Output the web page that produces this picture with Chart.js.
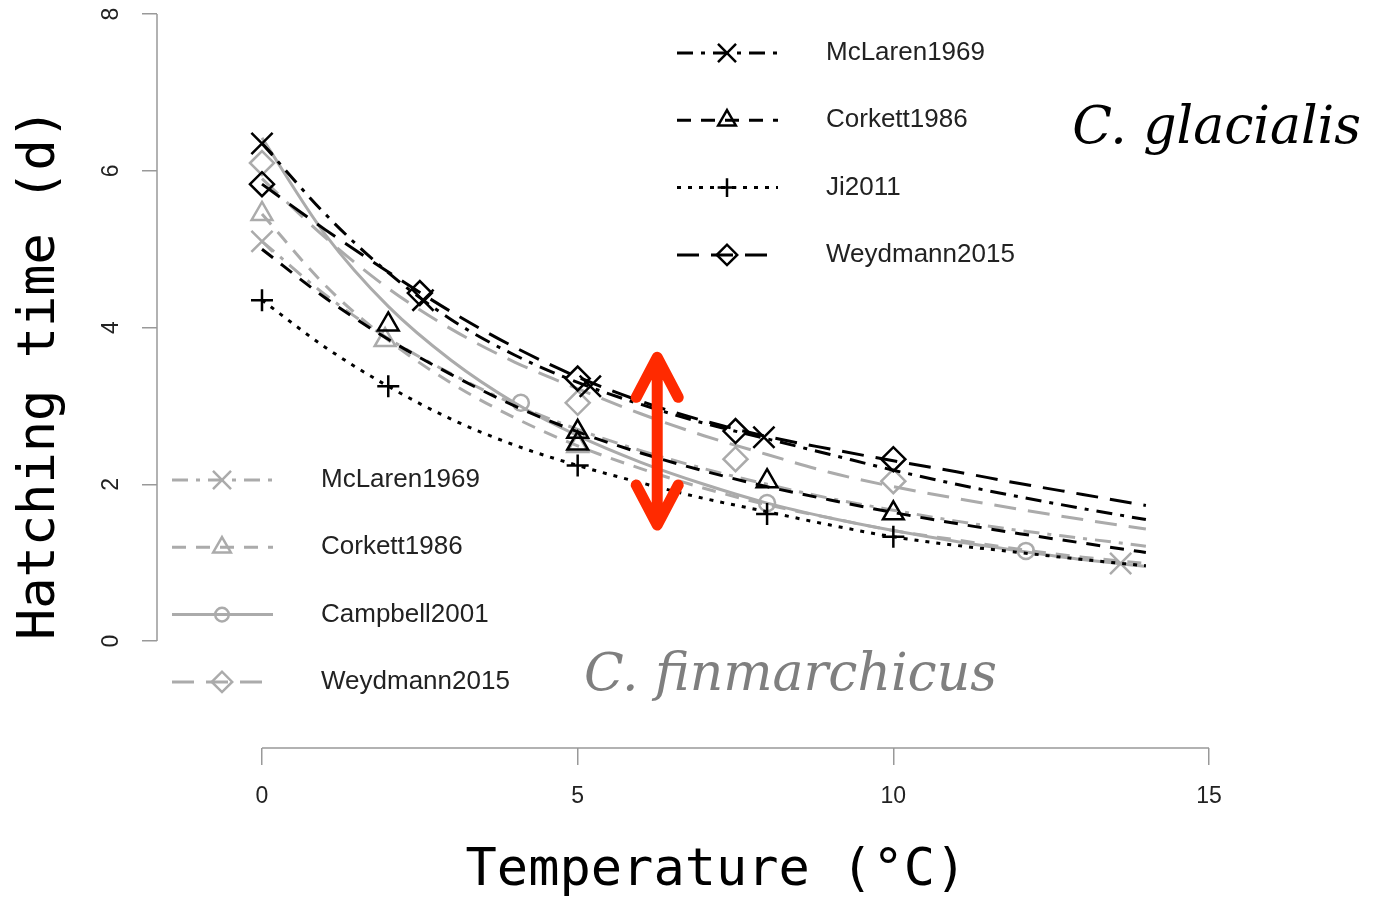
<!DOCTYPE html>
<html>
<head>
<meta charset="utf-8">
<script src="https://cdn.jsdelivr.net/npm/chart.js@4.4.1/dist/chart.umd.min.js"></script>
<style>
  html, body { margin: 0; padding: 0; background: #fff; }
</style>
</head>
<body>
<canvas id="chart" width="1381" height="897"></canvas>
<script>
const temps = [0, 1, 2, 3, 4, 5, 6, 7, 8, 9, 10, 11, 12, 13, 14];

// C. glacialis fits (black)
const mclarenGla  = [6.35, 5.45, 4.70, 4.10, 3.65, 3.30, 3.02, 2.78, 2.58, 2.38, 2.18, 2.00, 1.84, 1.69, 1.55];
const corkettGla  = [5.00, 4.38, 3.85, 3.40, 3.00, 2.67, 2.40, 2.17, 1.97, 1.80, 1.64, 1.50, 1.37, 1.25, 1.13];
const jiGla       = [4.35, 3.75, 3.25, 2.83, 2.50, 2.24, 2.02, 1.82, 1.65, 1.48, 1.33, 1.22, 1.13, 1.04, 0.96];
const weydmannGla = [5.83, 5.25, 4.71, 4.20, 3.75, 3.37, 3.06, 2.81, 2.61, 2.45, 2.30, 2.16, 2.01, 1.87, 1.73];

// C. finmarchicus fits (grey)
const mclarenFin  = [5.10, 4.42, 3.86, 3.41, 3.02, 2.70, 2.43, 2.20, 2.00, 1.82, 1.67, 1.53, 1.41, 1.31, 1.21];
const corkettFin  = [5.45, 4.54, 3.84, 3.29, 2.85, 2.49, 2.20, 1.95, 1.74, 1.57, 1.41, 1.29, 1.17, 1.07, 0.99];
const campbellFin = [6.42, 5.19, 4.27, 3.58, 3.04, 2.62, 2.28, 2.00, 1.76, 1.57, 1.41, 1.27, 1.15, 1.04, 0.95];
const weydmannFin = [5.90, 5.15, 4.50, 3.98, 3.56, 3.22, 2.90, 2.62, 2.38, 2.15, 1.97, 1.82, 1.68, 1.55, 1.43];

// observation symbols [temperature, days]
const mclarenGlaObs  = [[0, 6.35], [2.55, 4.35], [5.2, 3.25], [7.95, 2.6]];
const corkettGlaObs  = [[2, 4.04], [5, 2.67], [5, 2.52], [8, 2.04], [10, 1.63]];
const jiGlaObs       = [[0, 4.35], [2, 3.25], [5, 2.24], [8, 1.62], [10, 1.33]];
const weydmannGlaObs = [[0, 5.83], [2.5, 4.44], [5, 3.35], [7.5, 2.68], [10, 2.32]];
const mclarenFinObs  = [[0, 5.1], [13.6, 0.99]];
const corkettFinObs  = [[0, 5.45], [1.95, 3.84], [5, 2.49]];
const campbellFinObs = [[4.1, 3.04], [8, 1.76], [12.1, 1.15]];
const weydmannFinObs = [[0, 6.1], [5, 3.04], [7.5, 2.32], [10, 2.04]];

const xTicks = [0, 5, 10, 15];
const yTicks = [0, 2, 4, 6, 8];

// annotations, in data units
const arrowAt = 6.26;
const arrowSpan = [3.62, 1.48];
const speciesLabels = [
    { text: 'C. glacialis', x: 15.12, y: 6.35, color: '#000000' },
    { text: 'C. finmarchicus', x: 8.37, y: -0.62, color: '#7f7f7f' }
];

const BLACK = '#000000';
const GREY = '#ababab';

const STYLES = {
    mclaren:  { dash: [16, 8, 4, 8], point: 'crossRot', r: 15 },
    corkett:  { dash: [14, 10], point: 'triangle', r: 12 },
    ji:       { dash: [4, 7], point: 'cross', r: 11 },
    weydmann: { dash: [22, 12], point: 'rectRot', r: 12 },
    campbell: { dash: [], point: 'circle', r: 8 }
};

function curve(label, values, color, style) {
    return {
        label,
        data: temps.map((t, i) => ({ x: t, y: values[i] })),
        showLine: true,
        borderColor: color,
        borderWidth: 3,
        borderDash: style.dash,
        pointRadius: 0,
        tension: 0.4,
        cubicInterpolationMode: 'monotone',
        fill: false
    };
}

function marks(label, pts, color, style) {
    return {
        label,
        data: pts.map(([x, y]) => ({ x, y })),
        showLine: false,
        pointStyle: style.point,
        pointRadius: style.r,
        pointBorderColor: color,
        pointBackgroundColor: 'rgba(0,0,0,0)',
        pointBorderWidth: 2.5
    };
}

const legendBoxes = [
    {
        x: 677, y: 53, color: BLACK,
        entries: [['McLaren1969', STYLES.mclaren], ['Corkett1986', STYLES.corkett], ['Ji2011', STYLES.ji], ['Weydmann2015', STYLES.weydmann]]
    },
    {
        x: 172, y: 480, color: GREY,
        entries: [['McLaren1969', STYLES.mclaren], ['Corkett1986', STYLES.corkett], ['Campbell2001', STYLES.campbell], ['Weydmann2015', STYLES.weydmann]]
    }
];

const spinePlugin = {
    id: 'spines',
    afterDraw: (chart) => {
        const ctx = chart.ctx;
        const x = chart.scales.x, y = chart.scales.y;
        ctx.save();
        ctx.strokeStyle = '#999999';
        ctx.lineWidth = 1.5;
        ctx.beginPath();
        ctx.moveTo(x.getPixelForValue(xTicks[0]), chart.chartArea.bottom);
        ctx.lineTo(x.getPixelForValue(xTicks[xTicks.length - 1]), chart.chartArea.bottom);
        ctx.moveTo(chart.chartArea.left, y.getPixelForValue(yTicks[0]));
        ctx.lineTo(chart.chartArea.left, y.getPixelForValue(yTicks[yTicks.length - 1]));
        ctx.stroke();
        ctx.restore();
    }
};

const annotationPlugin = {
    id: 'annotations',
    afterDraw: (chart) => {
        const ctx = chart.ctx;
        const sx = chart.scales.x, sy = chart.scales.y;

        // species names
        ctx.save();
        ctx.font = 'italic 52px "DejaVu Serif"';
        ctx.textAlign = 'center';
        ctx.textBaseline = 'alphabetic';
        speciesLabels.forEach(l => {
            ctx.fillStyle = l.color;
            ctx.fillText(l.text, sx.getPixelForValue(l.x), sy.getPixelForValue(l.y));
        });
        ctx.restore();

        // red double arrow
        const ax = sx.getPixelForValue(arrowAt);
        const y1 = sy.getPixelForValue(arrowSpan[0]);
        const y2 = sy.getPixelForValue(arrowSpan[1]);
        ctx.save();
        ctx.strokeStyle = '#ff2a00';
        ctx.lineWidth = 11;
        ctx.lineCap = 'round';
        ctx.lineJoin = 'round';
        ctx.beginPath();
        ctx.moveTo(ax, y1 + 4);
        ctx.lineTo(ax, y2 - 4);
        ctx.moveTo(ax - 21, y1 + 40);
        ctx.lineTo(ax, y1);
        ctx.lineTo(ax + 21, y1 + 40);
        ctx.moveTo(ax - 21, y2 - 40);
        ctx.lineTo(ax, y2);
        ctx.lineTo(ax + 21, y2 - 40);
        ctx.stroke();
        ctx.restore();

        // the two legends
        legendBoxes.forEach(box => {
            box.entries.forEach(([label, style], i) => {
                const ly = box.y + i * 67.3;
                ctx.save();
                ctx.strokeStyle = box.color;
                ctx.lineWidth = 3;
                ctx.setLineDash(style.dash);
                ctx.beginPath();
                ctx.moveTo(box.x, ly);
                ctx.lineTo(box.x + 101, ly);
                ctx.stroke();
                ctx.setLineDash([]);
                ctx.lineWidth = 2.5;
                ctx.fillStyle = 'rgba(0,0,0,0)';
                Chart.helpers.drawPoint(ctx, { pointStyle: style.point, radius: style.r * 0.85, borderWidth: 2.5, rotation: 0 }, box.x + 50, ly);
                ctx.fillStyle = '#222222';
                ctx.font = '26px "Liberation Sans"';
                ctx.textBaseline = 'middle';
                ctx.textAlign = 'left';
                ctx.fillText(label, box.x + 149, ly);
                ctx.restore();
            });
        });
    }
};

const datasets = [
    marks('McLaren1969 obs', mclarenGlaObs, BLACK, STYLES.mclaren),
    marks('Corkett1986 obs', corkettGlaObs, BLACK, STYLES.corkett),
    marks('Ji2011 obs', jiGlaObs, BLACK, STYLES.ji),
    marks('Weydmann2015 obs', weydmannGlaObs, BLACK, STYLES.weydmann),
    curve('McLaren1969', mclarenGla, BLACK, STYLES.mclaren),
    curve('Corkett1986', corkettGla, BLACK, STYLES.corkett),
    curve('Ji2011', jiGla, BLACK, STYLES.ji),
    curve('Weydmann2015', weydmannGla, BLACK, STYLES.weydmann),
    marks('McLaren1969 fin obs', mclarenFinObs, GREY, STYLES.mclaren),
    marks('Corkett1986 fin obs', corkettFinObs, GREY, STYLES.corkett),
    marks('Campbell2001 obs', campbellFinObs, GREY, STYLES.campbell),
    marks('Weydmann2015 fin obs', weydmannFinObs, GREY, STYLES.weydmann),
    curve('McLaren1969 fin', mclarenFin, GREY, STYLES.mclaren),
    curve('Corkett1986 fin', corkettFin, GREY, STYLES.corkett),
    curve('Campbell2001', campbellFin, GREY, STYLES.campbell),
    curve('Weydmann2015 fin', weydmannFin, GREY, STYLES.weydmann)
];

// keep tick labels from pushing the plot area in
function noLabelPadding(s) {
    s.paddingTop = 0;
    s.paddingBottom = 0;
    s.paddingLeft = 0;
    s.paddingRight = 0;
}

new Chart(document.getElementById('chart'), {
    type: 'scatter',
    data: { datasets },
    plugins: [spinePlugin, annotationPlugin],
    options: {
        responsive: false,
        animation: false,
        layout: { autoPadding: false, padding: { top: 0, right: 106, bottom: 0, left: 0 } },
        plugins: { legend: { display: false }, tooltip: { enabled: false } },
        scales: {
            x: {
                type: 'linear',
                min: -1.663,
                max: 16.045,
                afterBuildTicks: s => { s.ticks = xTicks.map(v => ({ value: v })); },
                afterFit: s => { s.height = 149; noLabelPadding(s); },
                border: { display: false },
                grid: { drawOnChartArea: false, color: '#999999', tickColor: '#999999', lineWidth: 1.5, tickLength: 17 },
                ticks: { color: '#222222', font: { family: 'Liberation Sans', size: 23 }, padding: 18, maxRotation: 0 },
                title: { display: true, text: 'Temperature (°C)', color: '#000', font: { family: 'DejaVu Sans Mono', size: 52, lineHeight: 1.0 }, padding: { top: 0, bottom: 0 } }
            },
            y: {
                type: 'linear',
                min: -1.365,
                max: 8.18,
                afterBuildTicks: s => { s.ticks = yTicks.map(v => ({ value: v })); },
                afterFit: s => { s.width = 157; noLabelPadding(s); },
                border: { display: false },
                grid: { drawOnChartArea: false, color: '#999999', tickColor: '#999999', lineWidth: 1.5, tickLength: 15 },
                ticks: { color: '#222222', font: { family: 'Liberation Sans', size: 23 }, padding: 24, minRotation: 90, maxRotation: 90, crossAlign: 'center' },
                title: { display: true, text: 'Hatching time (d)', color: '#000', font: { family: 'DejaVu Sans Mono', size: 52 }, padding: { top: 9, bottom: 0 } }
            }
        }
    }
});
</script>
</body>
</html>
